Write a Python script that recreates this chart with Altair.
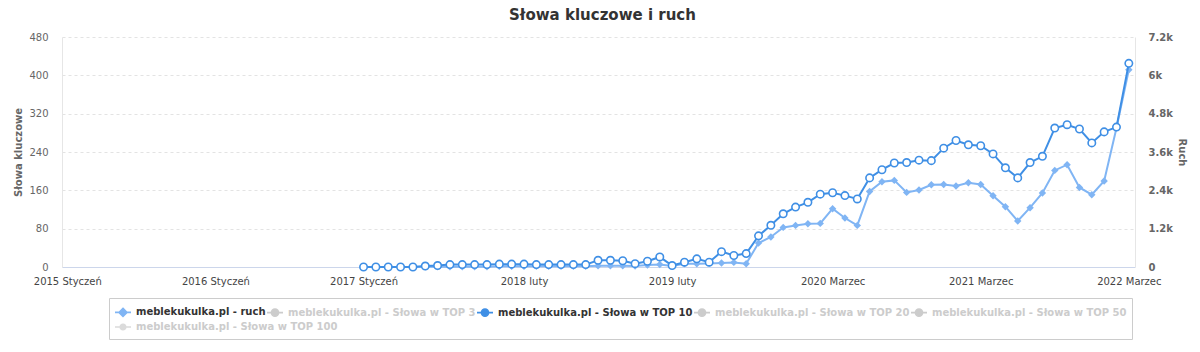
import altair as alt
import pandas as pd

# ---------------- data ----------------
series_names = [
    "meblekukulka.pl - ruch",
    "meblekukulka.pl - Słowa w TOP 3",
    "meblekukulka.pl - Słowa w TOP 10",
    "meblekukulka.pl - Słowa w TOP 20",
    "meblekukulka.pl - Słowa w TOP 50",
    "meblekukulka.pl - Słowa w TOP 100",
]
series_colors = ["#80b5f4", "#cccccc", "#3f8fe5", "#cccccc", "#cccccc", "#cccccc"]

# month index counted from 2015 Styczeń (= 0); data run 2017 Styczeń .. 2022 Marzec
months = list(range(24, 87))

top10 = [0, 0, 0, 0, 0, 2, 3, 5, 5, 5, 5, 6, 6, 6, 5, 5, 5, 5, 5, 14,
         14, 13, 7, 12, 21, 3, 10, 17, 10, 32, 24, 28, 65, 87, 111, 125, 135, 152, 155, 149,
         142, 186, 203, 217, 218, 223, 222, 248, 264, 255, 253, 236, 207, 186, 218, 231, 290, 297, 288, 259,
         282, 292, 425]

ruch = [0, 0, 0, 0, 0, 10, 10, 10, 10, 10, 10, 20, 20, 20, 20, 20, 20, 20, 20, 40,
        40, 40, 30, 60, 80, 30, 100, 103, 113, 125, 144, 103, 751, 939, 1240, 1302, 1355, 1365, 1825, 1534,
        1302, 2366, 2670, 2711, 2335, 2410, 2576, 2585, 2535, 2639, 2585, 2232, 1887, 1440, 1856, 2316, 3024, 3202, 2491, 2263,
        2692, 4350, 6175]

tick_months = [0, 12, 24, 37, 49, 62, 74, 86]
tick_labels = ["2015 Styczeń", "2016 Styczeń", "2017 Styczeń", "2018 luty",
               "2019 luty", "2020 Marzec", "2021 Marzec", "2022 Marzec"]

left_ticks = [0, 80, 160, 240, 320, 400, 480]
right_ticks = [0, 1200, 2400, 3600, 4800, 6000, 7200]

RUCH = series_names[0]
TOP10 = series_names[2]
TOP100 = series_names[5]

df = pd.DataFrame(
    {"month": months * 2,
     "value": ruch + top10,
     "series": [RUCH] * len(months) + [TOP10] * len(months)}
)

FONT = "DejaVu Sans"

# ---------------- legend ----------------
circle_path = "M-1,0H-0.45M0.45,0H1M0.45,0A0.45,0.45 0 1,1 -0.45,0A0.45,0.45 0 1,1 0.45,0Z"
diamond_path = "M-1,0H1M0,-0.5L0.5,0L0,0.5L-0.5,0Z"
filled_line_circle_path = "M-1,-0.1H1V0.1H-1ZM0.45,0A0.45,0.45 0 1,1 -0.45,0A0.45,0.45 0 1,1 0.45,0Z"

active = f"(datum.value == '{RUCH}' || datum.value == '{TOP10}')"

legend_main = alt.Legend(
    title=" ",
    titleOrient="bottom",
    titleFontSize=13,
    titlePadding=1,
    orient="none",
    legendX=47,
    legendY=261,
    direction="horizontal",
    columns=5,
    values=series_names[:5],
    strokeColor="#cccccc",
    padding=5,
    labelFont=FONT,
    labelFontSize=10,
    labelFontWeight="bold",
    labelOffset=4,
    labelLimit=400,
    columnPadding=-3,
    labelColor={"expr": f"{active} ? '#333333' : '#cccccc'"},
    symbolType={"expr": f"datum.value == '{RUCH}' ? '{diamond_path}' : '{circle_path}'"},
    symbolSize=256,
    symbolStrokeWidth=1.6,
    symbolFillColor={"expr": f"datum.value == '{RUCH}' ? '{series_colors[0]}' : datum.value == '{TOP10}' ? '#ffffff' : '#cccccc'"},
    symbolStrokeColor={"expr": f"datum.value == '{RUCH}' ? '{series_colors[0]}' : datum.value == '{TOP10}' ? '{series_colors[2]}' : '#cccccc'"},
)

legend_second_row = alt.Legend(
    title=None,
    orient="none",
    legendX=52,
    legendY=281,
    padding=0,
    labelFont=FONT,
    labelFontSize=10,
    labelFontWeight="bold",
    labelOffset=4,
    labelLimit=400,
    labelColor="#cccccc",
    symbolSize=256,
    symbolFillColor="#cccccc",
)

color = alt.Color(
    "series:N",
    scale=alt.Scale(domain=series_names, range=series_colors),
    legend=legend_main,
)

x = alt.X(
    "month:Q",
    scale=alt.Scale(domain=[-0.43, 86.5], nice=False, zero=False),
    axis=alt.Axis(
        title=None,
        values=tick_months,
        labelExpr="[" + ",".join("'" + t + "'" for t in tick_labels) + "][indexof(["
                  + ",".join(str(m) for m in tick_months) + "], datum.value)]",
        labelFlush=False,
        labelOverlap=False,
        ticks=False,
        grid=False,
        domainColor="#ccd6eb",
        labelFont=FONT,
        labelFontSize=10,
        labelColor="#444444",
        labelPadding=9,
    ),
)

left_axis = alt.Axis(
    title="Słowa kluczowe",
    orient="left",
    values=left_ticks,
    grid=True,
    gridColor="#e3e3e3",
    gridDash=[3, 3],
    ticks=False,
    domainColor="#e6e6e6",
    labelFont=FONT,
    labelFontSize=10,
    labelColor="#666666",
    labelPadding=14,
    titleFont=FONT,
    titleFontSize=10,
    titleFontWeight="bold",
    titleColor="#666666",
    titlePadding=5,
)

right_axis = alt.Axis(
    title="Ruch",
    orient="right",
    values=right_ticks,
    grid=False,
    ticks=False,
    domainColor="#e6e6e6",
    labelExpr="datum.value == 0 ? '0' : format(datum.value / 1000, '~g') + 'k'",
    labelFont=FONT,
    labelFontSize=10,
    labelFontWeight="bold",
    labelColor="#666666",
    labelPadding=13,
    titleFont=FONT,
    titleFontSize=10,
    titleFontWeight="bold",
    titleColor="#666666",
    titlePadding=4,
)

y_left = alt.Y("value:Q", scale=alt.Scale(domain=[0, 480], nice=False), axis=left_axis)
y_right = alt.Y("value:Q", scale=alt.Scale(domain=[0, 7200], nice=False), axis=right_axis)

base = alt.Chart(df).encode(x=x, color=color)

ruch_layer = alt.layer(
    base.mark_line(strokeWidth=2).encode(y=y_right),
    base.mark_point(shape="diamond", filled=True, size=55, opacity=1).encode(y=y_right),
).transform_filter(alt.datum.series == RUCH)

top_layer = alt.layer(
    base.mark_line(strokeWidth=2).encode(y=y_left),
    base.mark_point(shape="circle", filled=False, fill="white", size=55, strokeWidth=1.6, opacity=1).encode(y=y_left),
).transform_filter(alt.datum.series == TOP10)

# hidden series (no data shown) – only contributes the second legend row
hidden_layer = (
    alt.Chart(df)
    .transform_filter("false")
    .mark_point(filled=True, color="#cccccc")
    .encode(
        shape=alt.Shape(
            "series:N",
            scale=alt.Scale(domain=[TOP100], range=[filled_line_circle_path]),
            legend=legend_second_row,
        )
    )
)

chart = (
    alt.layer(ruch_layer, top_layer, hidden_layer)
    .resolve_scale(y="independent")
    .properties(
        width=1073,
        height=230,
        title=alt.TitleParams(
            "Słowa kluczowe i ruch",
            font=FONT,
            fontSize=15,
            fontWeight="bold",
            color="#333333",
            anchor="middle",
            offset=9,
            dx=4,
        ),
        autosize=alt.AutoSizeParams(type="none"),
        padding={"left": 62, "top": 37, "right": 65, "bottom": 85},
        background="white",
    )
    .configure_view(strokeWidth=0)
)

chart.save("out.html", embed_options={"renderer": "svg", "actions": False})
